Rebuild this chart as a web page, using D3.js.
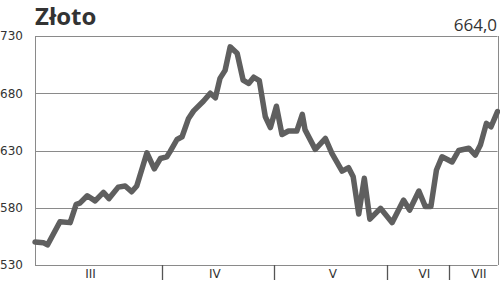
<!DOCTYPE html>
<html>
<head>
<meta charset="utf-8">
<script src="https://cdn.jsdelivr.net/npm/d3@7"></script>
<style>
  body { margin: 0; background: #fff; }
  svg { display: block; font-family: "DejaVu Sans", sans-serif; }
</style>
</head>
<body>
<div id="chart"></div>
<script>
// session position (0..100 across the plotted period) and gold price
const sessions = [0, 1.8, 2.7, 5.4, 7.6, 8.9, 9.7, 11.3, 13, 14.8, 16, 18, 19.5, 20.9, 22,
    24.2, 25.8, 27.1, 28.5, 29.2, 30.7, 31.8, 33.2, 34.3, 36.4, 37.9, 39, 40, 41.1, 42.2,
    43.7, 45, 46.2, 47.3, 48.5, 49.8, 50.9, 52.2, 53.4, 54.8, 56.6, 57.8, 58.4, 60.6, 62.8,
    64.2, 66.4, 67.8, 68.8, 70, 71.2, 72.4, 74.7, 77.2, 79.7, 81, 83, 84.4, 85.6, 86.8,
    88, 90.2, 91.6, 93.8, 95.2, 96.3, 97.6, 98.6, 100];
const prices = [550, 549.5, 547.5, 567.8, 567, 583, 584, 590.5, 586, 593.4, 588, 598, 599, 594, 599,
    628, 614, 623, 624.5, 629, 639.6, 642, 658, 664.6, 673, 680, 676, 693, 700, 720.5,
    715, 691.5, 688.5, 694, 691, 659.5, 650, 668.7, 644, 647, 647, 661.5, 648, 631, 640.5,
    627.5, 612, 615, 607, 574.5, 605.7, 570, 579.5, 567, 586.7, 578, 594.6, 581, 581, 613,
    624.5, 620, 630, 632, 626, 634.7, 653.7, 650.7, 664];

const yTicks = [530, 580, 630, 680, 730];
const monthBreaks = [27.5, 51.7, 76.2, 89.6];
const monthNames = ["III", "IV", "V", "VI", "VII"];
const monthLabelPos = [12, 38.9, 64.4, 84.2, 96];
const title = "Złoto";
const lastValue = "664,0";

const width = 500, height = 282;
const margin = {top: 36, right: 2.5, bottom: 17, left: 35};

const svg = d3.select("#chart").append("svg")
    .attr("width", width)
    .attr("height", height);

const x = d3.scaleLinear()
    .domain([0, 100])
    .range([margin.left, width - margin.right]);

const y = d3.scaleLinear()
    .domain([530, 730])
    .range([height - margin.bottom, margin.top]);

// gridlines
svg.append("g")
    .selectAll("line")
    .data(yTicks)
    .join("line")
    .attr("x1", x(0))
    .attr("x2", x(100))
    .attr("y1", d => Math.round(y(d)) + 0.5)
    .attr("y2", d => Math.round(y(d)) + 0.5)
    .attr("stroke", "#8a8a8a")
    .attr("stroke-width", 1);

// left / right borders
svg.append("g")
    .selectAll("line")
    .data([0, 100])
    .join("line")
    .attr("x1", d => Math.round(x(d)) + 0.5)
    .attr("x2", d => Math.round(x(d)) + 0.5)
    .attr("y1", y(730))
    .attr("y2", y(530))
    .attr("stroke", "#8a8a8a");

// month separators below the axis
svg.append("g")
    .selectAll("line")
    .data(monthBreaks)
    .join("line")
    .attr("x1", d => Math.round(x(d)) + 0.5)
    .attr("x2", d => Math.round(x(d)) + 0.5)
    .attr("y1", y(530))
    .attr("y2", y(530) + 15)
    .attr("stroke", "#555")
    .attr("stroke-width", 1.3);

// y labels
svg.append("g")
    .selectAll("text")
    .data(yTicks)
    .join("text")
    .attr("x", 0)
    .attr("y", d => y(d))
    .attr("dy", "0.36em")
    .attr("font-size", 12)
    .attr("fill", "#333")
    .text(d => d);

// month labels
svg.append("g")
    .selectAll("text")
    .data(monthNames)
    .join("text")
    .attr("x", (d, i) => x(monthLabelPos[i]))
    .attr("y", y(530) + 9)
    .attr("dy", "0.36em")
    .attr("text-anchor", "middle")
    .attr("font-size", 12)
    .attr("fill", "#333")
    .text(d => d);

// price line
const line = d3.line()
    .x((d, i) => x(sessions[i]))
    .y(d => y(d));

svg.append("path")
    .datum(prices)
    .attr("d", line)
    .attr("fill", "none")
    .attr("stroke", "#5f5f5f")
    .attr("stroke-width", 5.5)
    .attr("stroke-linejoin", "round")
    .attr("stroke-linecap", "round");

// title and last value
svg.append("text")
    .attr("x", 35)
    .attr("y", 25)
    .attr("font-family", "'Open Sans', sans-serif")
    .attr("font-size", 24)
    .attr("font-weight", "bold")
    .attr("fill", "#333")
    .text(title);

svg.append("text")
    .attr("x", 497)
    .attr("y", 31)
    .attr("text-anchor", "end")
    .attr("font-family", "'Open Sans', sans-serif")
    .attr("font-size", 17)
    .attr("fill", "#333")
    .text(lastValue);
</script>
</body>
</html>
